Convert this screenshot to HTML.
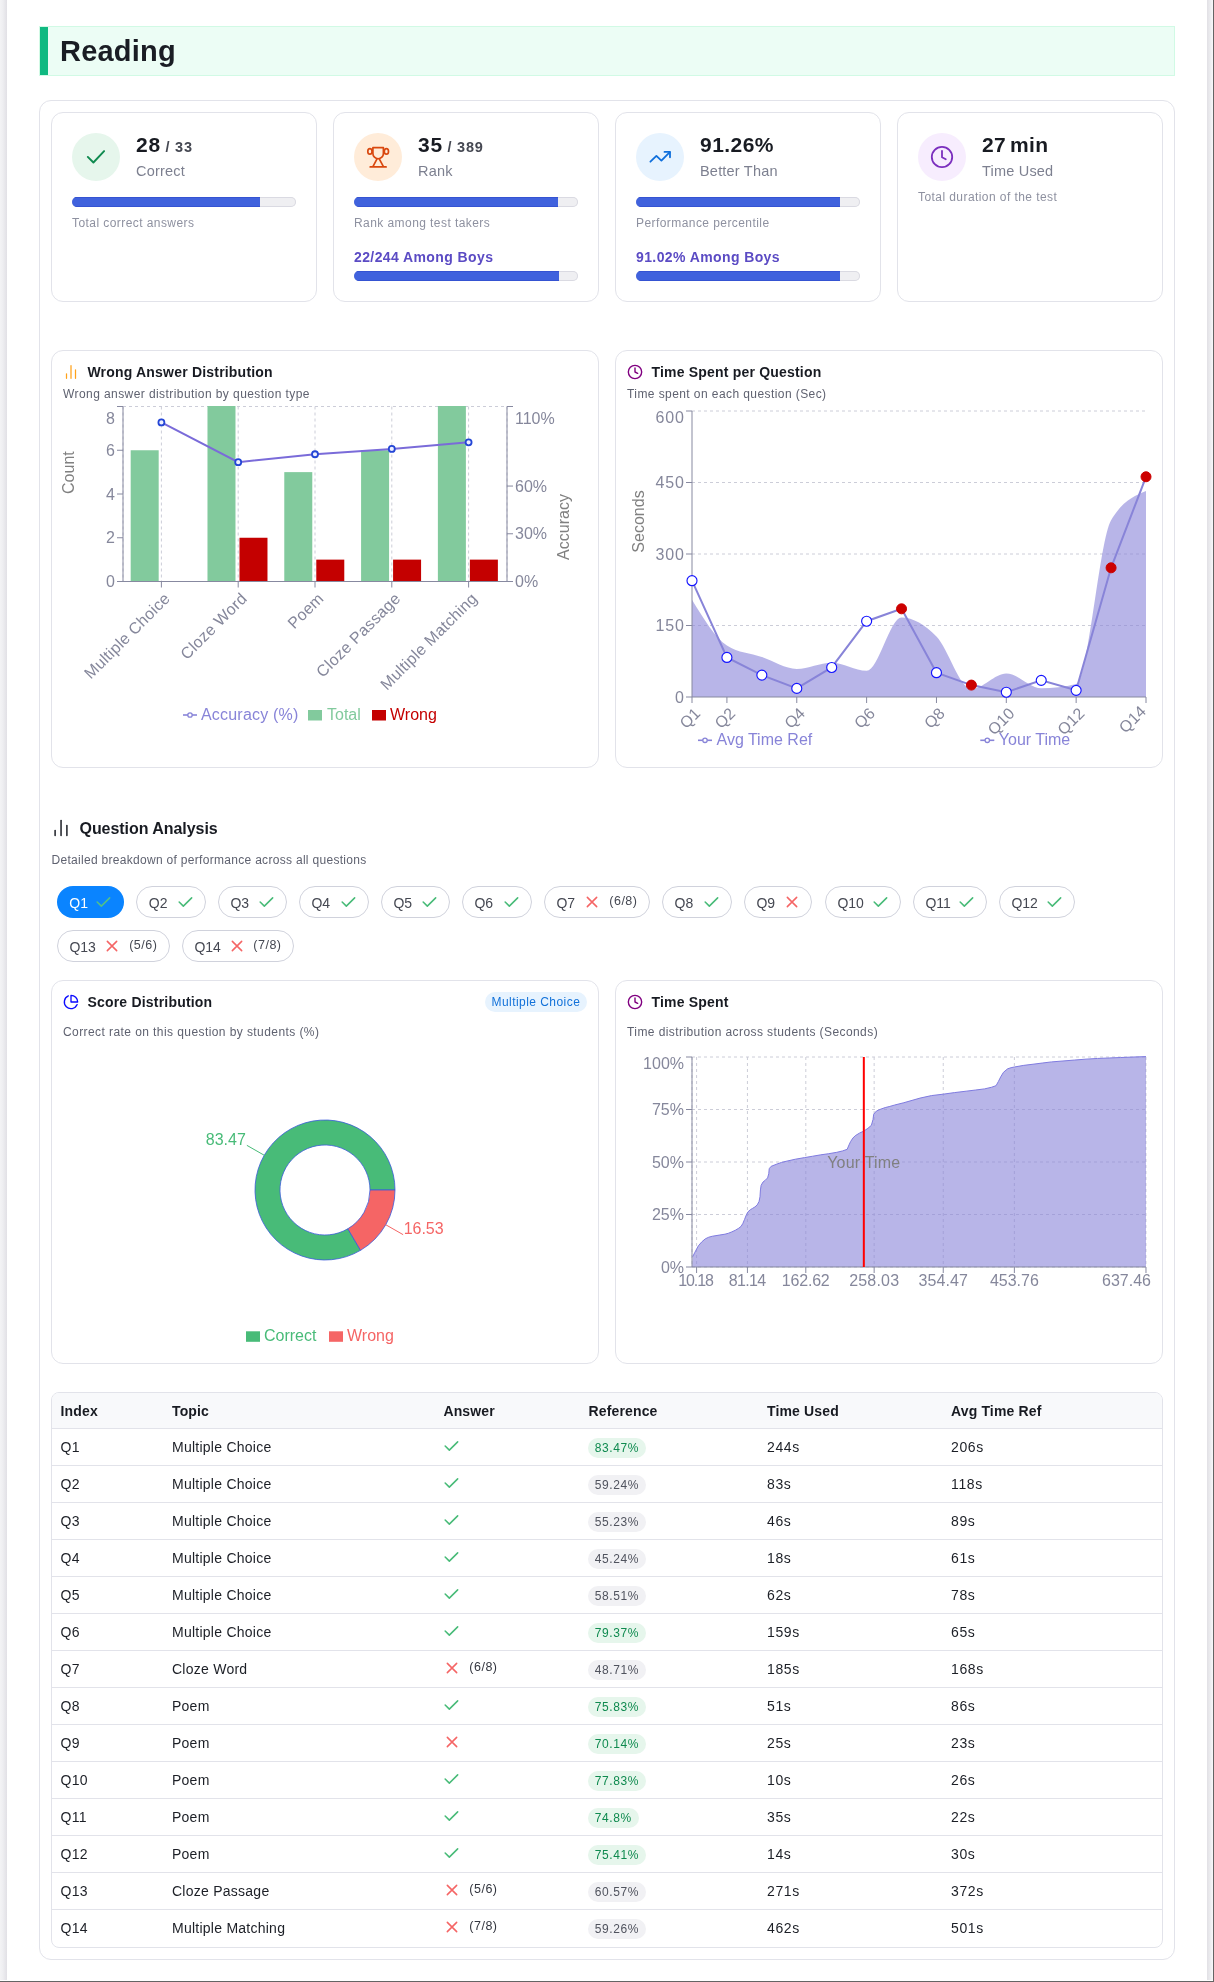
<!DOCTYPE html>
<html>
<head>
<meta charset="utf-8">
<title>Reading</title>
<style>
*{box-sizing:border-box;margin:0;padding:0}
html,body{width:1214px;height:1982px;overflow:hidden}
body{font-family:"Liberation Sans",sans-serif;background:#fff;position:relative;color:#1c1f26}
.abs{position:absolute}
#wrap{position:absolute;left:0;top:0;width:1214px;height:1982px;will-change:transform}
#page{position:absolute;left:7px;top:0;width:1200px;height:1981px;background:#fff}
#ls{position:absolute;left:0;top:0;width:7px;height:1980px;background:linear-gradient(to right,#f3f3f5,#eeeef1 40%,#e1e0e5)}
#rs{position:absolute;left:1207px;top:0;width:6px;height:1980px;background:linear-gradient(to right,#e1e0e5,#ebebee 50%,#f8f8fa)}
#rl{position:absolute;left:1213px;top:0;width:1px;height:1982px;background:#646464}
#botline{position:absolute;left:0;top:1981px;width:1214px;height:1px;background:#646464}
#hdr{position:absolute;left:39px;top:26px;width:1136px;height:50px;background:#ecfdf5;border:1px solid #d1fae5}
#hdr:before{content:"";position:absolute;left:0;top:0;width:8px;height:48px;background:#10b981}
#hdr span{position:absolute;left:20px;top:8px;font-size:29px;font-weight:700;letter-spacing:.2px;color:#1a1d24;line-height:32px;white-space:nowrap}
#outer{position:absolute;left:39px;top:100px;width:1136px;height:1860px;border:1px solid #e2e3ea;border-radius:12px}
.card{position:absolute;border:1px solid #e2e3ea;border-radius:12px;background:#fff}
.t{position:absolute;white-space:nowrap;line-height:1}
/* stat cards */
.ic{position:absolute;left:20px;top:20px;width:48px;height:48px;border-radius:50%}
.big{position:absolute;left:84px;top:20px;font-size:21px;font-weight:700;color:#181b22;white-space:nowrap;line-height:24px;letter-spacing:.7px}
.big small{font-size:14.5px;font-weight:700;color:#454852;letter-spacing:.75px}
.lbl{position:absolute;left:84px;top:49px;font-size:14.5px;color:#7d8090;white-space:nowrap;line-height:18px;letter-spacing:.2px}
.bar{position:absolute;left:20px;width:224px;height:10px;border-radius:5px;background:#efeff2;box-shadow:inset 0 0 0 1px #dadae2;overflow:hidden}
.bar i{position:absolute;left:0;top:0;height:10px;background:#4062dd;border-top:1px solid #3553d2;border-bottom:1px solid #3553d2;display:block}
.cap{position:absolute;left:20px;font-size:12px;color:#8e91a0;white-space:nowrap;line-height:14px;letter-spacing:.43px}
.sub{position:absolute;left:20px;top:136px;font-size:14px;font-weight:700;color:#5b4bc4;white-space:nowrap;line-height:16px;letter-spacing:.4px}
/* chart cards */
.ct{position:absolute;left:35.4px;top:13px;font-size:14px;font-weight:700;color:#181b22;white-space:nowrap;line-height:16px;letter-spacing:.2px}
.cs{position:absolute;left:11px;font-size:12px;color:#5f6270;white-space:nowrap;line-height:14px;letter-spacing:.42px}
.th{font-size:14px;font-weight:700;color:#181b22;letter-spacing:.15px}
.td{font-size:14px;color:#1c1f26;letter-spacing:.25px}
svg{position:absolute;left:0;top:0;overflow:visible}
svg text{font-family:"Liberation Sans",sans-serif}
</style>
</head>
<body><div id="wrap">
<div id="page"></div><div id="ls"></div><div id="rs"></div><div id="rl"></div>
<div id="botline"></div>
<div id="hdr"><span>Reading</span></div>
<div id="outer"></div>

<!-- STAT CARDS -->
<div class="card" style="left:51px;top:112px;width:266px;height:190px">
  <div class="ic" style="background:#e6f6ec"><svg width="48" height="48" viewBox="0 0 48 48"><path d="M15.8 23.9 L21.4 29.5 L32.1 18.1" fill="none" stroke="#0f8a4f" stroke-width="1.9" stroke-linecap="round" stroke-linejoin="round"/></svg></div>
  <div class="big">28<small> / 33</small></div>
  <div class="lbl">Correct</div>
  <div class="bar" style="top:84px"><i style="width:188px"></i></div>
  <div class="cap" style="top:103px">Total correct answers</div>
</div>
<div class="card" style="left:333px;top:112px;width:266px;height:190px">
  <div class="ic" style="background:#ffecd9"><svg width="48" height="48" viewBox="0 0 48 48"><g fill="none" stroke="#d9480f" stroke-width="1.7" stroke-linecap="round" stroke-linejoin="round"><path d="M18.9 14.65H29.4V20.5a5.25 5.25 0 0 1-10.5 0z"/><ellipse cx="15.9" cy="18.4" rx="2.1" ry="2.7"/><ellipse cx="32.4" cy="18.4" rx="2.1" ry="2.7"/><path d="M22.9 26.2L18.9 33.7M25.4 26.2L29.4 33.7M16.2 33.9H32.1"/></g></svg></div>
  <div class="big">35<small> / 389</small></div>
  <div class="lbl">Rank</div>
  <div class="bar" style="top:84px"><i style="width:204px"></i></div>
  <div class="cap" style="top:103px">Rank among test takers</div>
  <div class="sub">22/244 Among Boys</div>
  <div class="bar" style="top:158px"><i style="width:205px"></i></div>
</div>
<div class="card" style="left:615px;top:112px;width:266px;height:190px">
  <div class="ic" style="background:#e7f3fe"><svg width="48" height="48" viewBox="0 0 48 48"><g fill="none" stroke="#0f6fdc" stroke-width="1.8" stroke-linecap="round" stroke-linejoin="round"><path d="M14.4 28.7L20.4 22.9L25.4 27.6L33.8 19.1"/><path d="M28.5 18.9H34V24.3"/></g></svg></div>
  <div class="big" style="letter-spacing:.45px">91.26%</div>
  <div class="lbl">Better Than</div>
  <div class="bar" style="top:84px"><i style="width:204px"></i></div>
  <div class="cap" style="top:103px">Performance percentile</div>
  <div class="sub">91.02% Among Boys</div>
  <div class="bar" style="top:158px"><i style="width:204px"></i></div>
</div>
<div class="card" style="left:897px;top:112px;width:266px;height:190px">
  <div class="ic" style="background:#f7edfe"><svg width="48" height="48" viewBox="0 0 48 48"><g fill="none" stroke="#7b2fbe" stroke-width="1.8" stroke-linecap="round" stroke-linejoin="round"><circle cx="24" cy="24" r="10.2"/><path d="M24 17.8v6.4l3.8 2"/></g></svg></div>
  <div class="big" style="letter-spacing:.3px;word-spacing:-2px">27 min</div>
  <div class="lbl">Time Used</div>
  <div class="cap" style="top:77px">Total duration of the test</div>
</div>

<div class="card" style="left:51px;top:350px;width:548px;height:418px">
<svg style="left:0;top:0" width="40" height="40" viewBox="0 0 40 40"><path d="M14.5 22.8V27.3M19 14.5V27.3M23.5 18.8V27.3" fill="none" stroke="#ffa21a" stroke-width="1.25" stroke-linecap="round"/></svg>
<div class="ct">Wrong Answer Distribution</div>
<div class="cs" style="top:36px">Wrong answer distribution by question type</div>
</div>
<svg width="1214" height="1982" viewBox="0 0 1214 1982" style="pointer-events:none">
<path d="M123 406.5V581.5M161.4 406.5V581.5M238.2 406.5V581.5M315 406.5V581.5M391.8 406.5V581.5M468.6 406.5V581.5M507 406.5V581.5M123 406.5H507M123 581.5H507" fill="none" stroke="#cccdd8" stroke-width="1" stroke-dasharray="3 3"/>
<rect x="130.68" y="450.25" width="28" height="131.25" fill="#82ca9d"/>
<rect x="207.48" y="406" width="28" height="175.5" fill="#82ca9d"/>
<rect x="239.48" y="537.75" width="28" height="43.75" fill="#c40000"/>
<rect x="284.28" y="472.12" width="28" height="109.38" fill="#82ca9d"/>
<rect x="316.28" y="559.62" width="28" height="21.88" fill="#c40000"/>
<rect x="361.08" y="450.25" width="28" height="131.25" fill="#82ca9d"/>
<rect x="393.08" y="559.62" width="28" height="21.88" fill="#c40000"/>
<rect x="437.88" y="406" width="28" height="175.5" fill="#82ca9d"/>
<rect x="469.88" y="559.62" width="28" height="21.88" fill="#c40000"/>
<path d="M123 406.5V581.5M507 406.5V581.5M123 581.5H507M117 581.5H123M117 537.75H123M117 494H123M117 450.25H123M117 406.5H123M507 581.5H513M507 533.77H513M507 486.05H513M507 406.5H513M161.4 581.5V587.5M238.2 581.5V587.5M315 581.5V587.5M391.8 581.5V587.5M468.6 581.5V587.5" fill="none" stroke="#8789a0" stroke-width="1"/>
<g font-size="16" fill="#85879b">
<text x="115" y="587.2" text-anchor="end">0</text>
<text x="115" y="543.45" text-anchor="end">2</text>
<text x="115" y="499.7" text-anchor="end">4</text>
<text x="115" y="455.95" text-anchor="end">6</text>
<text x="115" y="423.7" text-anchor="end">8</text>
<text x="515" y="587.2">0%</text>
<text x="515" y="539.47">30%</text>
<text x="515" y="491.75">60%</text>
<text x="515" y="423.7">110%</text>
<text font-size="16" letter-spacing=".28" text-anchor="end" transform="translate(171.1 599.5) rotate(-45)" x="0" y="0">Multiple Choice</text>
<text font-size="16" letter-spacing=".28" text-anchor="end" transform="translate(247.9 599.5) rotate(-45)" x="0" y="0">Cloze Word</text>
<text font-size="16" letter-spacing=".28" text-anchor="end" transform="translate(324.7 599.5) rotate(-45)" x="0" y="0">Poem</text>
<text font-size="16" letter-spacing=".28" text-anchor="end" transform="translate(401.5 599.5) rotate(-45)" x="0" y="0">Cloze Passage</text>
<text font-size="16" letter-spacing=".28" text-anchor="end" transform="translate(478.3 599.5) rotate(-45)" x="0" y="0">Multiple Matching</text>
<text font-size="16" fill="#808080" text-anchor="middle" transform="translate(74 472.6) rotate(-90)">Count</text>
<text font-size="16" fill="#808080" text-anchor="middle" transform="translate(568.5 527) rotate(-90)">Accuracy</text>
</g>
<path d="M161.4 422.41L238.2 462.18L315 454.23L391.8 448.93L468.6 442.3" fill="none" stroke="#7a6bd9" stroke-width="2"/>
<circle cx="161.4" cy="422.41" r="3" fill="#eef0ff" stroke="#2446d6" stroke-width="1.8"/>
<circle cx="238.2" cy="462.18" r="3" fill="#eef0ff" stroke="#2446d6" stroke-width="1.8"/>
<circle cx="315" cy="454.23" r="3" fill="#eef0ff" stroke="#2446d6" stroke-width="1.8"/>
<circle cx="391.8" cy="448.93" r="3" fill="#eef0ff" stroke="#2446d6" stroke-width="1.8"/>
<circle cx="468.6" cy="442.3" r="3" fill="#eef0ff" stroke="#2446d6" stroke-width="1.8"/>
<g font-size="16">
<path d="M183 715h14" stroke="#8884d8" stroke-width="1.6"/><circle cx="190" cy="715" r="2.2" fill="#fff" stroke="#8884d8" stroke-width="1.3"/>
<text x="201" y="719.7" fill="#8884d8" letter-spacing=".2">Accuracy (%)</text>
<rect x="308" y="710" width="14" height="10.5" fill="#82ca9d"/>
<text x="327" y="719.7" fill="#82ca9d">Total</text>
<rect x="372" y="710" width="14" height="10.5" fill="#c40000"/>
<text x="390" y="719.7" fill="#c40000">Wrong</text>
</g>
</svg>
<div class="card" style="left:615px;top:350px;width:548px;height:418px">
<svg style="left:11.05px;top:12.9px" width="16" height="16" viewBox="0 0 24 24"><g fill="none" stroke="#800080" stroke-width="2.1" stroke-linecap="round" stroke-linejoin="round"><circle cx="12" cy="12" r="10"/><path d="M12 6v6l4 2"/></g></svg>
<div class="ct">Time Spent per Question</div>
<div class="cs" style="top:36px">Time spent on each question (Sec)</div>
</div>
<svg width="1214" height="1982" viewBox="0 0 1214 1982" style="pointer-events:none">
<path d="M692 625.5H1146M692 554H1146M692 482.5H1146M692 411H1146" fill="none" stroke="#cccdd8" stroke-width="1" stroke-dasharray="3 3"/>
<path d="M692 599.76C703.64 618.83 715.28 637.89 726.92 645.52C738.56 653.15 750.21 653.07 761.85 656.96C773.49 660.85 785.13 668.88 796.77 668.88C808.41 668.88 820.05 662.68 831.69 662.68C843.33 662.68 854.97 670.78 866.62 670.78C878.26 670.78 889.9 617.4 901.54 617.4C913.18 617.4 924.82 624.55 936.46 636.46C948.1 648.38 959.74 688.9 971.38 688.9C983.03 688.9 994.67 673.4 1006.31 673.4C1017.95 673.4 1029.59 688.18 1041.23 688.18C1052.87 688.18 1064.51 686.75 1076.15 683.89C1087.79 681.03 1099.44 539.54 1111.08 520.16C1122.72 500.77 1134.36 495.93 1146 491.08L1146 697L692 697Z" fill="#8884d8" fill-opacity=".6"/>
<path d="M692 411V697M692 697H1146M686 697H692M686 625.5H692M686 554H692M686 482.5H692M686 411H692M692 697V703M726.92 697V703M796.77 697V703M866.62 697V703M936.46 697V703M1006.31 697V703M1076.15 697V703M1146 697V703" fill="none" stroke="#8789a0" stroke-width="1"/>
<g font-size="16" fill="#85879b">
<text x="684.9" y="702.7" text-anchor="end" letter-spacing=".9">0</text>
<text x="684.9" y="631.2" text-anchor="end" letter-spacing=".9">150</text>
<text x="684.9" y="559.7" text-anchor="end" letter-spacing=".9">300</text>
<text x="684.9" y="488.2" text-anchor="end" letter-spacing=".9">450</text>
<text x="684.9" y="423.2" text-anchor="end" letter-spacing=".9">600</text>
<text font-size="16" text-anchor="end" transform="translate(701.3 714.5) rotate(-45)">Q1</text>
<text font-size="16" text-anchor="end" transform="translate(736.22 714.5) rotate(-45)">Q2</text>
<text font-size="16" text-anchor="end" transform="translate(806.07 714.5) rotate(-45)">Q4</text>
<text font-size="16" text-anchor="end" transform="translate(875.92 714.5) rotate(-45)">Q6</text>
<text font-size="16" text-anchor="end" transform="translate(945.76 714.5) rotate(-45)">Q8</text>
<text font-size="16" text-anchor="end" transform="translate(1015.61 714.5) rotate(-45)">Q10</text>
<text font-size="16" text-anchor="end" transform="translate(1085.45 714.5) rotate(-45)">Q12</text>
<text font-size="16" text-anchor="end" transform="translate(1147 712.5) rotate(-45)">Q14</text>
<text fill="#808080" text-anchor="middle" transform="translate(643.5 521.5) rotate(-90)">Seconds</text>
</g>
<path d="M692 580.69L726.92 657.44L761.85 675.07L796.77 688.42L831.69 667.45L866.62 621.21L901.54 608.82L936.46 672.69L971.38 685.08L1006.31 692.23L1041.23 680.32L1076.15 690.33L1111.08 567.82L1146 476.78" fill="none" stroke="#8884d8" stroke-width="2"/>
<circle cx="692" cy="580.69" r="5" fill="#fff" stroke="#1414ff" stroke-width="1.15"/>
<circle cx="726.92" cy="657.44" r="5" fill="#fff" stroke="#1414ff" stroke-width="1.15"/>
<circle cx="761.85" cy="675.07" r="5" fill="#fff" stroke="#1414ff" stroke-width="1.15"/>
<circle cx="796.77" cy="688.42" r="5" fill="#fff" stroke="#1414ff" stroke-width="1.15"/>
<circle cx="831.69" cy="667.45" r="5" fill="#fff" stroke="#1414ff" stroke-width="1.15"/>
<circle cx="866.62" cy="621.21" r="5" fill="#fff" stroke="#1414ff" stroke-width="1.15"/>
<circle cx="901.54" cy="608.82" r="5" fill="#cc0000" stroke="#cc0000" stroke-width="1"/>
<circle cx="936.46" cy="672.69" r="5" fill="#fff" stroke="#1414ff" stroke-width="1.15"/>
<circle cx="971.38" cy="685.08" r="5" fill="#cc0000" stroke="#cc0000" stroke-width="1"/>
<circle cx="1006.31" cy="692.23" r="5" fill="#fff" stroke="#1414ff" stroke-width="1.15"/>
<circle cx="1041.23" cy="680.32" r="5" fill="#fff" stroke="#1414ff" stroke-width="1.15"/>
<circle cx="1076.15" cy="690.33" r="5" fill="#fff" stroke="#1414ff" stroke-width="1.15"/>
<circle cx="1111.08" cy="567.82" r="5" fill="#cc0000" stroke="#cc0000" stroke-width="1"/>
<circle cx="1146" cy="476.78" r="5" fill="#cc0000" stroke="#cc0000" stroke-width="1"/>
<g font-size="16" fill="#8884d8">
<path d="M698 740.3h14" stroke="#8884d8" stroke-width="1.6"/><circle cx="705" cy="740.3" r="2.2" fill="#fff" stroke="#8884d8" stroke-width="1.3"/>
<text x="716.5" y="745.3">Avg Time Ref</text>
<path d="M980.3 740.3h14" stroke="#8884d8" stroke-width="1.6"/><circle cx="987.3" cy="740.3" r="2.2" fill="#fff" stroke="#8884d8" stroke-width="1.3"/>
<text x="998.8" y="745.3">Your Time</text>
</g></svg>
<svg style="left:51px;top:818px" width="20" height="20" viewBox="0 0 20 20"><g stroke="#1c1f26" stroke-width="1.5" stroke-linecap="round"><path d="M4.1 12.6v4.8"/><path d="M10.05 2.4v15"/><path d="M15.9 7.5v9.9"/></g></svg>
<div class="t" style="left:79.5px;top:821px;font-size:16px;font-weight:700;color:#181b22;letter-spacing:-.05px">Question Analysis</div>
<div class="t" style="left:51.5px;top:853.5px;font-size:12px;color:#5f6270;letter-spacing:.3px">Detailed breakdown of performance across all questions</div>
<div class="abs" style="left:56.9px;top:886px;width:67.2px;height:32px;border-radius:16px;background:#0a84ff;">
<div class="t" style="left:12.4px;top:9.5px;font-size:14px;color:#fff">Q1</div>
<svg style="left:36.4px;top:5.7px" width="20" height="20" viewBox="0 0 24 24"><path d="M5 12l5 5l10-10" fill="none" stroke="#52c088" stroke-width="1.85" stroke-linecap="round" stroke-linejoin="round"/></svg>
</div>
<div class="abs" style="left:136.4px;top:886px;width:69.2px;height:32px;border-radius:16px;border:1px solid #d0d2dc;background:#fff;">
<div class="t" style="left:11.4px;top:8.5px;font-size:14px;color:#454852">Q2</div>
<svg style="left:37.4px;top:4.7px" width="20" height="20" viewBox="0 0 24 24"><path d="M5 12l5 5l10-10" fill="none" stroke="#48bb78" stroke-width="1.85" stroke-linecap="round" stroke-linejoin="round"/></svg>
</div>
<div class="abs" style="left:218px;top:886px;width:68.7px;height:32px;border-radius:16px;border:1px solid #d0d2dc;background:#fff;">
<div class="t" style="left:11.4px;top:8.5px;font-size:14px;color:#454852">Q3</div>
<svg style="left:36.9px;top:4.7px" width="20" height="20" viewBox="0 0 24 24"><path d="M5 12l5 5l10-10" fill="none" stroke="#48bb78" stroke-width="1.85" stroke-linecap="round" stroke-linejoin="round"/></svg>
</div>
<div class="abs" style="left:299px;top:886px;width:69.7px;height:32px;border-radius:16px;border:1px solid #d0d2dc;background:#fff;">
<div class="t" style="left:11.4px;top:8.5px;font-size:14px;color:#454852">Q4</div>
<svg style="left:37.9px;top:4.7px" width="20" height="20" viewBox="0 0 24 24"><path d="M5 12l5 5l10-10" fill="none" stroke="#48bb78" stroke-width="1.85" stroke-linecap="round" stroke-linejoin="round"/></svg>
</div>
<div class="abs" style="left:381px;top:886px;width:68.8px;height:32px;border-radius:16px;border:1px solid #d0d2dc;background:#fff;">
<div class="t" style="left:11.4px;top:8.5px;font-size:14px;color:#454852">Q5</div>
<svg style="left:37px;top:4.7px" width="20" height="20" viewBox="0 0 24 24"><path d="M5 12l5 5l10-10" fill="none" stroke="#48bb78" stroke-width="1.85" stroke-linecap="round" stroke-linejoin="round"/></svg>
</div>
<div class="abs" style="left:462px;top:886px;width:69.8px;height:32px;border-radius:16px;border:1px solid #d0d2dc;background:#fff;">
<div class="t" style="left:11.4px;top:8.5px;font-size:14px;color:#454852">Q6</div>
<svg style="left:38px;top:4.7px" width="20" height="20" viewBox="0 0 24 24"><path d="M5 12l5 5l10-10" fill="none" stroke="#48bb78" stroke-width="1.85" stroke-linecap="round" stroke-linejoin="round"/></svg>
</div>
<div class="abs" style="left:544.1px;top:886px;width:105.7px;height:32px;border-radius:16px;border:1px solid #d0d2dc;background:#fff;">
<div class="t" style="left:11.4px;top:8.5px;font-size:14px;color:#454852">Q7</div>
<svg style="left:36.8px;top:5.1px" width="20" height="20" viewBox="0 0 24 24"><path d="M17.6 6.4l-11.2 11.2M6.4 6.4l11.2 11.2" fill="none" stroke="#f56565" stroke-width="1.85" stroke-linecap="round" stroke-linejoin="round"/></svg>
<div class="t" style="right:11.3px;top:8.2px;font-size:12.5px;color:#454852;letter-spacing:.5px">(6/8)</div>
</div>
<div class="abs" style="left:662.2px;top:886px;width:69.4px;height:32px;border-radius:16px;border:1px solid #d0d2dc;background:#fff;">
<div class="t" style="left:11.4px;top:8.5px;font-size:14px;color:#454852">Q8</div>
<svg style="left:37.6px;top:4.7px" width="20" height="20" viewBox="0 0 24 24"><path d="M5 12l5 5l10-10" fill="none" stroke="#48bb78" stroke-width="1.85" stroke-linecap="round" stroke-linejoin="round"/></svg>
</div>
<div class="abs" style="left:744px;top:886px;width:68.4px;height:32px;border-radius:16px;border:1px solid #d0d2dc;background:#fff;">
<div class="t" style="left:11.4px;top:8.5px;font-size:14px;color:#454852">Q9</div>
<svg style="left:36.95px;top:5.1px" width="20" height="20" viewBox="0 0 24 24"><path d="M17.6 6.4l-11.2 11.2M6.4 6.4l11.2 11.2" fill="none" stroke="#f56565" stroke-width="1.85" stroke-linecap="round" stroke-linejoin="round"/></svg>
</div>
<div class="abs" style="left:825px;top:886px;width:75.5px;height:32px;border-radius:16px;border:1px solid #d0d2dc;background:#fff;">
<div class="t" style="left:11.4px;top:8.5px;font-size:14px;color:#454852">Q10</div>
<svg style="left:43.7px;top:4.7px" width="20" height="20" viewBox="0 0 24 24"><path d="M5 12l5 5l10-10" fill="none" stroke="#48bb78" stroke-width="1.85" stroke-linecap="round" stroke-linejoin="round"/></svg>
</div>
<div class="abs" style="left:913px;top:886px;width:73.6px;height:32px;border-radius:16px;border:1px solid #d0d2dc;background:#fff;">
<div class="t" style="left:11.4px;top:8.5px;font-size:14px;color:#454852">Q11</div>
<svg style="left:41.8px;top:4.7px" width="20" height="20" viewBox="0 0 24 24"><path d="M5 12l5 5l10-10" fill="none" stroke="#48bb78" stroke-width="1.85" stroke-linecap="round" stroke-linejoin="round"/></svg>
</div>
<div class="abs" style="left:999px;top:886px;width:76px;height:32px;border-radius:16px;border:1px solid #d0d2dc;background:#fff;">
<div class="t" style="left:11.4px;top:8.5px;font-size:14px;color:#454852">Q12</div>
<svg style="left:44.2px;top:4.7px" width="20" height="20" viewBox="0 0 24 24"><path d="M5 12l5 5l10-10" fill="none" stroke="#48bb78" stroke-width="1.85" stroke-linecap="round" stroke-linejoin="round"/></svg>
</div>
<div class="abs" style="left:57px;top:930px;width:112.7px;height:32px;border-radius:16px;border:1px solid #d0d2dc;background:#fff;">
<div class="t" style="left:11.4px;top:8.5px;font-size:14px;color:#454852">Q13</div>
<svg style="left:44.3px;top:5.1px" width="20" height="20" viewBox="0 0 24 24"><path d="M17.6 6.4l-11.2 11.2M6.4 6.4l11.2 11.2" fill="none" stroke="#f56565" stroke-width="1.85" stroke-linecap="round" stroke-linejoin="round"/></svg>
<div class="t" style="right:11.3px;top:8.2px;font-size:12.5px;color:#454852;letter-spacing:.5px">(5/6)</div>
</div>
<div class="abs" style="left:182px;top:930px;width:111.8px;height:32px;border-radius:16px;border:1px solid #d0d2dc;background:#fff;">
<div class="t" style="left:11.4px;top:8.5px;font-size:14px;color:#454852">Q14</div>
<svg style="left:44.1px;top:5.1px" width="20" height="20" viewBox="0 0 24 24"><path d="M17.6 6.4l-11.2 11.2M6.4 6.4l11.2 11.2" fill="none" stroke="#f56565" stroke-width="1.85" stroke-linecap="round" stroke-linejoin="round"/></svg>
<div class="t" style="right:11.3px;top:8.2px;font-size:12.5px;color:#454852;letter-spacing:.5px">(7/8)</div>
</div>
<div class="card" style="left:51px;top:980px;width:548px;height:384px">
<svg style="left:10.9px;top:12.9px" width="16" height="16" viewBox="0 0 24 24"><g fill="none" stroke="#0a0aff" stroke-width="2" stroke-linecap="round" stroke-linejoin="round"><path d="M21.21 15.89A10 10 0 1 1 8 2.83"/><path d="M22 12A10 10 0 0 0 12 2v10z"/></g></svg>
<div class="ct" style="top:13px">Score Distribution</div>
<div class="cs" style="top:43.5px">Correct rate on this question by students (%)</div>
<div class="abs" style="left:433px;top:11px;width:102px;height:20px;border-radius:10px;background:#e7f3fe"><div class="t" style="left:6.5px;top:4px;font-size:12px;color:#1271d9;letter-spacing:.45px">Multiple Choice</div></div>
</div>
<svg width="1214" height="1982" viewBox="0 0 1214 1982" style="pointer-events:none">
<path d="M395 1190A70 70 0 1 0 360.52 1250.32L347.83 1228.78A45 45 0 1 1 370 1190Z" fill="#48bb78" stroke="#3b5bdb" stroke-width=".8"/>
<path d="M360.52 1250.32A70 70 0 0 0 395 1190L370 1190A45 45 0 0 1 347.83 1228.78Z" fill="#f56565" stroke="#3b5bdb" stroke-width=".8"/>
<path d="M264.23 1155.26L246.87 1145.34" stroke="#48bb78" stroke-width="1" fill="none"/>
<text x="245.87" y="1145.04" font-size="16" fill="#48bb78" text-anchor="end">83.47</text>
<path d="M385.77 1224.74L403.13 1234.66" stroke="#f56565" stroke-width="1" fill="none"/>
<text x="403.63" y="1234.36" font-size="16" fill="#f56565" text-anchor="start">16.53</text>
<g font-size="16">
<rect x="246" y="1331.3" width="14" height="10.5" fill="#48bb78"/><text x="264" y="1341" fill="#48bb78">Correct</text>
<rect x="329" y="1331.3" width="14" height="10.5" fill="#f56565"/><text x="347" y="1341" fill="#f56565">Wrong</text>
</g></svg>
<div class="card" style="left:615px;top:980px;width:548px;height:384px">
<svg style="left:11.05px;top:12.9px" width="16" height="16" viewBox="0 0 24 24"><g fill="none" stroke="#800080" stroke-width="2.1" stroke-linecap="round" stroke-linejoin="round"><circle cx="12" cy="12" r="10"/><path d="M12 6v6l4 2"/></g></svg>
<div class="ct" style="top:13px">Time Spent</div>
<div class="cs" style="top:43.5px">Time distribution across students (Seconds)</div>
</div>
<svg width="1214" height="1982" viewBox="0 0 1214 1982" style="pointer-events:none">
<path d="M692 1267H1146M692 1214.5H1146M692 1162H1146M692 1109.5H1146M692 1057H1146M696.59 1057V1267M747.43 1057V1267M805.8 1057V1267M874.15 1057V1267M943.24 1057V1267M1014.37 1057V1267M1145.98 1057V1267M692 1057V1267" fill="none" stroke="#cccdd8" stroke-width="1" stroke-dasharray="3 3"/>
<path d="M692 1267L692.65 1256.79L694.95 1252.18L698.41 1245.72L701.87 1241.8L705.33 1238.8L708.79 1237.19L712.25 1236.26L719.17 1235.11L724.94 1234.19L728.39 1233.27L731.85 1231.88L735.31 1230.27L738.77 1228.19L741.08 1226.35L742.92 1223.35L744.54 1219.43L746.38 1214.82L748 1211.82L750.3 1209.74L752.61 1208.36L754.92 1206.97L757.22 1204.9L759.07 1201.44L759.99 1196.83L760.45 1189.91L761.14 1185.3L762.99 1182.07L765.3 1180.22L767.6 1177.92L768.75 1173.76L769.22 1168.69L771.06 1166.38L776.83 1164.08L781.44 1162.46L786.05 1161.31L795.28 1159.23L804.5 1157.62L812.57 1156.24L820.65 1154.85L828.72 1153.7L836.79 1152.32L842.56 1150.93L847.17 1149.32L849.01 1144.94L850.63 1141.48L852.93 1138.02L855.24 1135.71L859.39 1133.17L863.77 1131.1L867.92 1128.33L871.38 1125.33L873 1119.57L873.69 1114.26L876.46 1111.03L880.61 1109.19L885.22 1107.57L889.83 1106.42L894.61 1105.04L903.84 1102.73L919.98 1098.12L931.51 1095.58L943.04 1094.2L954.58 1092.58L966.11 1091.2L975.33 1090.05L984.56 1088.89L991.48 1087.28L996.09 1085.66L998.39 1081.51L1000.7 1076.9L1003.47 1072.29L1007.62 1068.83L1011.08 1067.68L1014.54 1066.98L1023.76 1065.37L1032.99 1064.22L1042.21 1063.06L1051.44 1061.91L1062.97 1060.99L1074.5 1060.06L1086.03 1059.14L1097.56 1058.45L1109.1 1057.99L1120.63 1057.53L1132.16 1057.07L1146 1056.61L1146 1267Z" fill="#8884d8" fill-opacity=".6"/>
<path d="M692.65 1256.79L694.95 1252.18L698.41 1245.72L701.87 1241.8L705.33 1238.8L708.79 1237.19L712.25 1236.26L719.17 1235.11L724.94 1234.19L728.39 1233.27L731.85 1231.88L735.31 1230.27L738.77 1228.19L741.08 1226.35L742.92 1223.35L744.54 1219.43L746.38 1214.82L748 1211.82L750.3 1209.74L752.61 1208.36L754.92 1206.97L757.22 1204.9L759.07 1201.44L759.99 1196.83L760.45 1189.91L761.14 1185.3L762.99 1182.07L765.3 1180.22L767.6 1177.92L768.75 1173.76L769.22 1168.69L771.06 1166.38L776.83 1164.08L781.44 1162.46L786.05 1161.31L795.28 1159.23L804.5 1157.62L812.57 1156.24L820.65 1154.85L828.72 1153.7L836.79 1152.32L842.56 1150.93L847.17 1149.32L849.01 1144.94L850.63 1141.48L852.93 1138.02L855.24 1135.71L859.39 1133.17L863.77 1131.1L867.92 1128.33L871.38 1125.33L873 1119.57L873.69 1114.26L876.46 1111.03L880.61 1109.19L885.22 1107.57L889.83 1106.42L894.61 1105.04L903.84 1102.73L919.98 1098.12L931.51 1095.58L943.04 1094.2L954.58 1092.58L966.11 1091.2L975.33 1090.05L984.56 1088.89L991.48 1087.28L996.09 1085.66L998.39 1081.51L1000.7 1076.9L1003.47 1072.29L1007.62 1068.83L1011.08 1067.68L1014.54 1066.98L1023.76 1065.37L1032.99 1064.22L1042.21 1063.06L1051.44 1061.91L1062.97 1060.99L1074.5 1060.06L1086.03 1059.14L1097.56 1058.45L1109.1 1057.99L1120.63 1057.53L1132.16 1057.07L1146 1056.61" fill="none" stroke="#7f7be0" stroke-width="1" stroke-linejoin="round"/>
<path d="M692 1057V1267M692 1267H1146M686 1267H692M686 1214.5H692M686 1162H692M686 1109.5H692M686 1057H692M696.59 1267V1273M747.43 1267V1273M805.8 1267V1273M874.15 1267V1273M943.24 1267V1273M1014.37 1267V1273M1145.98 1267V1273" fill="none" stroke="#8789a0" stroke-width="1"/>
<g font-size="16" fill="#85879b">
<text x="684" y="1272.7" text-anchor="end">0%</text>
<text x="684" y="1220.2" text-anchor="end">25%</text>
<text x="684" y="1167.7" text-anchor="end">50%</text>
<text x="684" y="1115.2" text-anchor="end">75%</text>
<text x="684" y="1068.7" text-anchor="end">100%</text>
<text x="678.2" y="1285.9" text-anchor="start" letter-spacing="-1.1">10.18</text>
<text x="747.08" y="1285.9" text-anchor="middle" letter-spacing="-0.7">81.14</text>
<text x="805.7" y="1285.9" text-anchor="middle" letter-spacing="-0.2">162.62</text>
<text x="874.25" y="1285.9" text-anchor="middle" letter-spacing="0.2">258.03</text>
<text x="943.28" y="1285.9" text-anchor="middle" letter-spacing="0.07">354.47</text>
<text x="1014.37" y="1285.9" text-anchor="middle" letter-spacing="0">453.76</text>
<text x="1151" y="1285.9" text-anchor="end" letter-spacing="0">637.46</text>
</g>
<path d="M863.82 1057V1267" stroke="#ff0000" stroke-width="2"/>
<text x="863.82" y="1167.7" font-size="16" fill="#808080" text-anchor="middle" letter-spacing=".2">Your Time</text>
</svg>
<div class="abs" style="left:51px;top:1392px;width:1112px;height:556px;border:1px solid #e2e3ea;border-radius:8px;overflow:hidden;background:#fff">
<div class="abs" style="left:0;top:0;width:1110px;height:36px;background:#f8f9fb;border-bottom:1px solid #e2e3ea"></div>
<div class="abs" style="left:0;top:72px;width:1110px;height:1px;background:#e2e3ea"></div>
<div class="abs" style="left:0;top:109px;width:1110px;height:1px;background:#e2e3ea"></div>
<div class="abs" style="left:0;top:146px;width:1110px;height:1px;background:#e2e3ea"></div>
<div class="abs" style="left:0;top:183px;width:1110px;height:1px;background:#e2e3ea"></div>
<div class="abs" style="left:0;top:220px;width:1110px;height:1px;background:#e2e3ea"></div>
<div class="abs" style="left:0;top:257px;width:1110px;height:1px;background:#e2e3ea"></div>
<div class="abs" style="left:0;top:294px;width:1110px;height:1px;background:#e2e3ea"></div>
<div class="abs" style="left:0;top:331px;width:1110px;height:1px;background:#e2e3ea"></div>
<div class="abs" style="left:0;top:368px;width:1110px;height:1px;background:#e2e3ea"></div>
<div class="abs" style="left:0;top:405px;width:1110px;height:1px;background:#e2e3ea"></div>
<div class="abs" style="left:0;top:442px;width:1110px;height:1px;background:#e2e3ea"></div>
<div class="abs" style="left:0;top:479px;width:1110px;height:1px;background:#e2e3ea"></div>
<div class="abs" style="left:0;top:516px;width:1110px;height:1px;background:#e2e3ea"></div>
</div>
<div class="t th" style="left:60.5px;top:1404px">Index</div>
<div class="t th" style="left:172px;top:1404px">Topic</div>
<div class="t th" style="left:443.4px;top:1404px">Answer</div>
<div class="t th" style="left:588.5px;top:1404px">Reference</div>
<div class="t th" style="left:767px;top:1404px">Time Used</div>
<div class="t th" style="left:951px;top:1404px">Avg Time Ref</div>
<div class="t td" style="left:60.5px;top:1440px">Q1</div>
<div class="t td" style="left:172px;top:1440px">Multiple Choice</div>
<svg style="left:441.45px;top:1435.7px" width="20" height="20" viewBox="0 0 24 24"><path d="M5 12l5 5l10-10" fill="none" stroke="#48bb78" stroke-width="1.85" stroke-linecap="round" stroke-linejoin="round"/></svg>
<div class="abs" style="left:588px;top:1438.2px;width:57.8px;height:19.6px;border-radius:10px;background:#e6f6ec"><div class="t" style="left:6.7px;top:4.3px;font-size:12px;letter-spacing:.6px;color:#0f8a4f">83.47%</div></div>
<div class="t td" style="left:767px;top:1440px;letter-spacing:.65px">244s</div>
<div class="t td" style="left:951px;top:1440px;letter-spacing:.65px">206s</div>
<div class="t td" style="left:60.5px;top:1477px">Q2</div>
<div class="t td" style="left:172px;top:1477px">Multiple Choice</div>
<svg style="left:441.45px;top:1472.7px" width="20" height="20" viewBox="0 0 24 24"><path d="M5 12l5 5l10-10" fill="none" stroke="#48bb78" stroke-width="1.85" stroke-linecap="round" stroke-linejoin="round"/></svg>
<div class="abs" style="left:588px;top:1475.2px;width:57.8px;height:19.6px;border-radius:10px;background:#f1f1f4"><div class="t" style="left:6.7px;top:4.3px;font-size:12px;letter-spacing:.6px;color:#50535e">59.24%</div></div>
<div class="t td" style="left:767px;top:1477px;letter-spacing:.65px">83s</div>
<div class="t td" style="left:951px;top:1477px;letter-spacing:.65px">118s</div>
<div class="t td" style="left:60.5px;top:1514px">Q3</div>
<div class="t td" style="left:172px;top:1514px">Multiple Choice</div>
<svg style="left:441.45px;top:1509.7px" width="20" height="20" viewBox="0 0 24 24"><path d="M5 12l5 5l10-10" fill="none" stroke="#48bb78" stroke-width="1.85" stroke-linecap="round" stroke-linejoin="round"/></svg>
<div class="abs" style="left:588px;top:1512.2px;width:57.8px;height:19.6px;border-radius:10px;background:#f1f1f4"><div class="t" style="left:6.7px;top:4.3px;font-size:12px;letter-spacing:.6px;color:#50535e">55.23%</div></div>
<div class="t td" style="left:767px;top:1514px;letter-spacing:.65px">46s</div>
<div class="t td" style="left:951px;top:1514px;letter-spacing:.65px">89s</div>
<div class="t td" style="left:60.5px;top:1551px">Q4</div>
<div class="t td" style="left:172px;top:1551px">Multiple Choice</div>
<svg style="left:441.45px;top:1546.7px" width="20" height="20" viewBox="0 0 24 24"><path d="M5 12l5 5l10-10" fill="none" stroke="#48bb78" stroke-width="1.85" stroke-linecap="round" stroke-linejoin="round"/></svg>
<div class="abs" style="left:588px;top:1549.2px;width:57.8px;height:19.6px;border-radius:10px;background:#f1f1f4"><div class="t" style="left:6.7px;top:4.3px;font-size:12px;letter-spacing:.6px;color:#50535e">45.24%</div></div>
<div class="t td" style="left:767px;top:1551px;letter-spacing:.65px">18s</div>
<div class="t td" style="left:951px;top:1551px;letter-spacing:.65px">61s</div>
<div class="t td" style="left:60.5px;top:1588px">Q5</div>
<div class="t td" style="left:172px;top:1588px">Multiple Choice</div>
<svg style="left:441.45px;top:1583.7px" width="20" height="20" viewBox="0 0 24 24"><path d="M5 12l5 5l10-10" fill="none" stroke="#48bb78" stroke-width="1.85" stroke-linecap="round" stroke-linejoin="round"/></svg>
<div class="abs" style="left:588px;top:1586.2px;width:57.8px;height:19.6px;border-radius:10px;background:#f1f1f4"><div class="t" style="left:6.7px;top:4.3px;font-size:12px;letter-spacing:.6px;color:#50535e">58.51%</div></div>
<div class="t td" style="left:767px;top:1588px;letter-spacing:.65px">62s</div>
<div class="t td" style="left:951px;top:1588px;letter-spacing:.65px">78s</div>
<div class="t td" style="left:60.5px;top:1625px">Q6</div>
<div class="t td" style="left:172px;top:1625px">Multiple Choice</div>
<svg style="left:441.45px;top:1620.7px" width="20" height="20" viewBox="0 0 24 24"><path d="M5 12l5 5l10-10" fill="none" stroke="#48bb78" stroke-width="1.85" stroke-linecap="round" stroke-linejoin="round"/></svg>
<div class="abs" style="left:588px;top:1623.2px;width:57.8px;height:19.6px;border-radius:10px;background:#e6f6ec"><div class="t" style="left:6.7px;top:4.3px;font-size:12px;letter-spacing:.6px;color:#0f8a4f">79.37%</div></div>
<div class="t td" style="left:767px;top:1625px;letter-spacing:.65px">159s</div>
<div class="t td" style="left:951px;top:1625px;letter-spacing:.65px">65s</div>
<div class="t td" style="left:60.5px;top:1662px">Q7</div>
<div class="t td" style="left:172px;top:1662px">Cloze Word</div>
<svg style="left:441.9px;top:1658px" width="20" height="20" viewBox="0 0 24 24"><path d="M17.6 6.4l-11.2 11.2M6.4 6.4l11.2 11.2" fill="none" stroke="#f56565" stroke-width="1.85" stroke-linecap="round" stroke-linejoin="round"/></svg>
<div class="t" style="left:469.3px;top:1661px;font-size:12.5px;color:#33363f;letter-spacing:.5px">(6/8)</div>
<div class="abs" style="left:588px;top:1660.2px;width:57.8px;height:19.6px;border-radius:10px;background:#f1f1f4"><div class="t" style="left:6.7px;top:4.3px;font-size:12px;letter-spacing:.6px;color:#50535e">48.71%</div></div>
<div class="t td" style="left:767px;top:1662px;letter-spacing:.65px">185s</div>
<div class="t td" style="left:951px;top:1662px;letter-spacing:.65px">168s</div>
<div class="t td" style="left:60.5px;top:1699px">Q8</div>
<div class="t td" style="left:172px;top:1699px">Poem</div>
<svg style="left:441.45px;top:1694.7px" width="20" height="20" viewBox="0 0 24 24"><path d="M5 12l5 5l10-10" fill="none" stroke="#48bb78" stroke-width="1.85" stroke-linecap="round" stroke-linejoin="round"/></svg>
<div class="abs" style="left:588px;top:1697.2px;width:57.8px;height:19.6px;border-radius:10px;background:#e6f6ec"><div class="t" style="left:6.7px;top:4.3px;font-size:12px;letter-spacing:.6px;color:#0f8a4f">75.83%</div></div>
<div class="t td" style="left:767px;top:1699px;letter-spacing:.65px">51s</div>
<div class="t td" style="left:951px;top:1699px;letter-spacing:.65px">86s</div>
<div class="t td" style="left:60.5px;top:1736px">Q9</div>
<div class="t td" style="left:172px;top:1736px">Poem</div>
<svg style="left:441.9px;top:1732px" width="20" height="20" viewBox="0 0 24 24"><path d="M17.6 6.4l-11.2 11.2M6.4 6.4l11.2 11.2" fill="none" stroke="#f56565" stroke-width="1.85" stroke-linecap="round" stroke-linejoin="round"/></svg>
<div class="abs" style="left:588px;top:1734.2px;width:57.8px;height:19.6px;border-radius:10px;background:#e6f6ec"><div class="t" style="left:6.7px;top:4.3px;font-size:12px;letter-spacing:.6px;color:#0f8a4f">70.14%</div></div>
<div class="t td" style="left:767px;top:1736px;letter-spacing:.65px">25s</div>
<div class="t td" style="left:951px;top:1736px;letter-spacing:.65px">23s</div>
<div class="t td" style="left:60.5px;top:1773px">Q10</div>
<div class="t td" style="left:172px;top:1773px">Poem</div>
<svg style="left:441.45px;top:1768.7px" width="20" height="20" viewBox="0 0 24 24"><path d="M5 12l5 5l10-10" fill="none" stroke="#48bb78" stroke-width="1.85" stroke-linecap="round" stroke-linejoin="round"/></svg>
<div class="abs" style="left:588px;top:1771.2px;width:57.8px;height:19.6px;border-radius:10px;background:#e6f6ec"><div class="t" style="left:6.7px;top:4.3px;font-size:12px;letter-spacing:.6px;color:#0f8a4f">77.83%</div></div>
<div class="t td" style="left:767px;top:1773px;letter-spacing:.65px">10s</div>
<div class="t td" style="left:951px;top:1773px;letter-spacing:.65px">26s</div>
<div class="t td" style="left:60.5px;top:1810px">Q11</div>
<div class="t td" style="left:172px;top:1810px">Poem</div>
<svg style="left:441.45px;top:1805.7px" width="20" height="20" viewBox="0 0 24 24"><path d="M5 12l5 5l10-10" fill="none" stroke="#48bb78" stroke-width="1.85" stroke-linecap="round" stroke-linejoin="round"/></svg>
<div class="abs" style="left:588px;top:1808.2px;width:50.5px;height:19.6px;border-radius:10px;background:#e6f6ec"><div class="t" style="left:6.7px;top:4.3px;font-size:12px;letter-spacing:.6px;color:#0f8a4f">74.8%</div></div>
<div class="t td" style="left:767px;top:1810px;letter-spacing:.65px">35s</div>
<div class="t td" style="left:951px;top:1810px;letter-spacing:.65px">22s</div>
<div class="t td" style="left:60.5px;top:1847px">Q12</div>
<div class="t td" style="left:172px;top:1847px">Poem</div>
<svg style="left:441.45px;top:1842.7px" width="20" height="20" viewBox="0 0 24 24"><path d="M5 12l5 5l10-10" fill="none" stroke="#48bb78" stroke-width="1.85" stroke-linecap="round" stroke-linejoin="round"/></svg>
<div class="abs" style="left:588px;top:1845.2px;width:57.8px;height:19.6px;border-radius:10px;background:#e6f6ec"><div class="t" style="left:6.7px;top:4.3px;font-size:12px;letter-spacing:.6px;color:#0f8a4f">75.41%</div></div>
<div class="t td" style="left:767px;top:1847px;letter-spacing:.65px">14s</div>
<div class="t td" style="left:951px;top:1847px;letter-spacing:.65px">30s</div>
<div class="t td" style="left:60.5px;top:1884px">Q13</div>
<div class="t td" style="left:172px;top:1884px">Cloze Passage</div>
<svg style="left:441.9px;top:1880px" width="20" height="20" viewBox="0 0 24 24"><path d="M17.6 6.4l-11.2 11.2M6.4 6.4l11.2 11.2" fill="none" stroke="#f56565" stroke-width="1.85" stroke-linecap="round" stroke-linejoin="round"/></svg>
<div class="t" style="left:469.3px;top:1883px;font-size:12.5px;color:#33363f;letter-spacing:.5px">(5/6)</div>
<div class="abs" style="left:588px;top:1882.2px;width:57.8px;height:19.6px;border-radius:10px;background:#f1f1f4"><div class="t" style="left:6.7px;top:4.3px;font-size:12px;letter-spacing:.6px;color:#50535e">60.57%</div></div>
<div class="t td" style="left:767px;top:1884px;letter-spacing:.65px">271s</div>
<div class="t td" style="left:951px;top:1884px;letter-spacing:.65px">372s</div>
<div class="t td" style="left:60.5px;top:1921px">Q14</div>
<div class="t td" style="left:172px;top:1921px">Multiple Matching</div>
<svg style="left:441.9px;top:1917px" width="20" height="20" viewBox="0 0 24 24"><path d="M17.6 6.4l-11.2 11.2M6.4 6.4l11.2 11.2" fill="none" stroke="#f56565" stroke-width="1.85" stroke-linecap="round" stroke-linejoin="round"/></svg>
<div class="t" style="left:469.3px;top:1920px;font-size:12.5px;color:#33363f;letter-spacing:.5px">(7/8)</div>
<div class="abs" style="left:588px;top:1919.2px;width:57.8px;height:19.6px;border-radius:10px;background:#f1f1f4"><div class="t" style="left:6.7px;top:4.3px;font-size:12px;letter-spacing:.6px;color:#50535e">59.26%</div></div>
<div class="t td" style="left:767px;top:1921px;letter-spacing:.65px">462s</div>
<div class="t td" style="left:951px;top:1921px;letter-spacing:.65px">501s</div>
</div></body>
</html>
